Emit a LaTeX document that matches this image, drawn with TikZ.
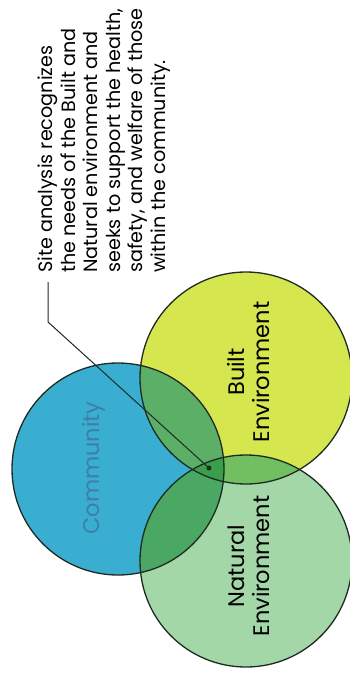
\documentclass[tikz,border=0pt]{standalone}
\usepackage{fontspec}
\setmainfont{Poppins}
\definecolor{commfill}{HTML}{3AAED0}
\definecolor{builtfill}{HTML}{D5E64E}
\definecolor{natfill}{HTML}{A3D7A8}
\definecolor{cbfill}{HTML}{5CAF66}
\definecolor{cnfill}{HTML}{4AA864}
\definecolor{bnfill}{HTML}{72BF62}
\definecolor{allfill}{HTML}{3A9F4A}
\definecolor{commtext}{HTML}{3C80A8}
\definecolor{ringline}{HTML}{1E2A22}
\begin{document}
\begin{tikzpicture}[x=1pt,y=-1pt]
% Configuración de estilos
\tikzstyle{ring} = [circle, draw=ringline, line width=1.3pt, minimum size=212pt, inner sep=0pt, rotate=90, align=center, font=\fontsize{22.5}{25}\selectfont]
\tikzstyle{note} = [rotate=90, align=left, inner sep=0pt, font=\fontsize{19.2}{22.5}\selectfont]

\useasboundingbox (0,0) rectangle (350,681);

% Rellenos de los círculos
\fill[commfill] (118,469) circle (106);
\fill[builtfill] (246,378) circle (106);
\fill[natfill] (246,561) circle (106);
\begin{scope}
  \clip (246,378) circle (106);
  \fill[bnfill] (246,561) circle (106);
\end{scope}
\begin{scope}
  \clip (118,469) circle (106);
  \fill[cbfill] (246,378) circle (106);
  \fill[cnfill] (246,561) circle (106);
  \clip (246,378) circle (106);
  \fill[allfill] (246,561) circle (106);
\end{scope}

% Círculos con etiquetas
\node[ring, text=commtext] (community) at (118,469) {};
\node[ring] (built) at (246,378) {};
\node[ring] (natural) at (246,561) {};
\node[rotate=90, text=commtext, font=\fontsize{22.5}{25}\selectfont] (commLabel) at (94,468) {Community};
\node[rotate=90, align=center, font=\fontsize{22.5}{25}\selectfont] (builtLabel) at (249,372) {Built\\Environment};
\node[rotate=90, align=center, font=\fontsize{22.5}{25}\selectfont] (natLabel) at (249,566) {Natural\\Environment};

% Nota y línea de referencia
\node[note, anchor=north west] (siteNote) at (38,273) {
    Site analysis recognizes\\
    the needs of the Built and\\
    Natural environment and\\
    seeks to support the health,\\
    safety, and welfare of those\\
    within the community.
};
\coordinate (lead) at (48,282);
\coordinate (bend) at (48,322);
\coordinate (hub) at (209,468);
\draw[line width=1pt, ringline] (lead) -- (bend) -- (hub);
\fill[ringline] (hub) circle (2.5);
\end{tikzpicture}
\end{document}
